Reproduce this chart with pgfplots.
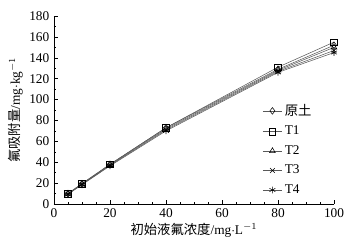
\documentclass[border=0pt]{standalone}
\usepackage{pgfplots}
\pgfplotsset{compat=1.18}
\usepackage{fontspec}
\setmainfont{Liberation Serif}
\newfontfamily\cjk{Noto Sans CJK SC}
\begin{document}
\begin{tikzpicture}
\useasboundingbox (-40.5pt,-30pt) rectangle (232.5pt,153pt);
\begin{axis}[
  at={(0,0)}, anchor=origin,
  scale only axis,
  width=210pt, height=141pt,
  xmin=0, xmax=100, ymin=0, ymax=180,
  xtick={0,20,...,100}, ytick={0,20,...,180},
  minor x tick num=3, minor y tick num=1,
  axis x line*=bottom, axis y line*=left,
  axis line style={-},
  tick style={black, thin},
  major tick length=3pt, minor tick length=1.5pt,
  /pgf/number format/assume math mode=true,
  ticklabel style={font=\fontsize{10}{12}\selectfont},
  xlabel={{\cjk 初始液氟浓度}/mg$\cdot$L$^{-1}$},
  ylabel={{\cjk 氟吸附量}/mg$\cdot$kg$^{-1}$},
  label style={font=\fontsize{10}{12}\selectfont},
  xlabel style={yshift=3pt},
  ylabel style={yshift=-2pt},
  legend style={draw=none, fill=none, at={(0.73,0.56)}, anchor=north west,
    font=\fontsize{10}{12}\selectfont, row sep=2.5pt},
  legend cell align=left,
  legend image code/.code={\draw[#1, mark=none] (0cm,0cm) -- (0.5cm,0cm);
    \draw[#1, only marks] plot coordinates {(0.25cm,0cm)};},
  every axis plot/.append style={thin, gray!70!black, mark size=2.5pt, mark options={solid, black, fill=white}},
]
\addplot[mark=diamond] coordinates {(5,10) (10,19.5) (20,38) (40,73) (80,129) (100,152)};
\addlegendentry{{\cjk 原土}}
\addplot[mark=square] coordinates {(5,10) (10,19.5) (20,38) (40,73) (80,131) (100,155)};
\addlegendentry{T1}
\addplot[mark=triangle] coordinates {(5,9.8) (10,19) (20,37.5) (40,72) (80,128) (100,150)};
\addlegendentry{T2}
\addplot[mark=x] coordinates {(5,9.5) (10,18.8) (20,37) (40,71) (80,127) (100,147)};
\addlegendentry{T3}
\addplot[mark=asterisk] coordinates {(5,9.3) (10,18.5) (20,36.5) (40,70) (80,126) (100,145)};
\addlegendentry{T4}
\end{axis}
\end{tikzpicture}
\end{document}
